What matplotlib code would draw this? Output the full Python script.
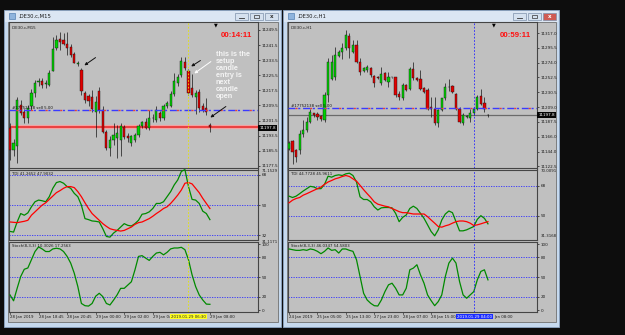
import numpy as np
import matplotlib
matplotlib.use('Agg')
import matplotlib.pyplot as plt
from matplotlib.patches import Rectangle

# ---- M15 chart (left window) ----
m15_open = [11197.5, 11186.0, 11188.0, 11210.0, 11206.0, 11203.0, 11209.0, 11216.0, 11222.0, 11222.5,
            11221.0, 11220.4, 11228.0, 11239.8, 11244.6, 11244.2, 11242.1, 11240.7, 11236.8, 11231.3,
            11228.3, 11216.0, 11214.6, 11213.9, 11206.3, 11217.2, 11207.2, 11195.4, 11186.9, 11191.3,
            11192.5, 11191.3, 11198.0, 11193.5, 11189.5, 11191.3, 11194.0, 11198.4, 11200.5, 11197.5,
            11202.7, 11201.9, 11205.4, 11202.8, 11209.3, 11209.3, 11215.5, 11221.3, 11225.7, 11232.7,
            11227.8, 11218.6, 11214.2, 11216.5, 11209.0, 11208.0, 11199.2]
m15_high = [11200.0, 11192.0, 11214.0, 11212.5, 11207.5, 11210.0, 11218.0, 11223.0, 11224.0, 11224.0,
            11223.0, 11228.3, 11245.9, 11246.8, 11248.6, 11247.7, 11248.6, 11242.0, 11238.0, 11233.0,
            11229.2, 11217.0, 11215.5, 11217.5, 11214.6, 11219.4, 11209.0, 11196.6, 11193.2, 11200.1,
            11199.0, 11200.1, 11199.3, 11195.0, 11194.0, 11195.0, 11199.5, 11201.5, 11203.0, 11207.2,
            11205.0, 11209.0, 11206.5, 11210.5, 11212.0, 11217.0, 11226.6, 11226.0, 11235.4, 11235.4,
            11229.0, 11226.0, 11217.5, 11218.0, 11211.0, 11213.4, 11200.1]
m15_low = [11180.7, 11183.0, 11179.0, 11204.5, 11200.0, 11200.0, 11207.0, 11214.0, 11220.0, 11218.5,
           11219.0, 11219.6, 11227.5, 11239.0, 11239.0, 11241.4, 11236.2, 11235.0, 11231.9, 11230.5,
           11215.1, 11210.7, 11209.0, 11206.3, 11192.6, 11205.7, 11194.8, 11186.0, 11182.6, 11188.6,
           11181.6, 11182.5, 11192.0, 11190.0, 11187.8, 11190.0, 11193.0, 11197.5, 11197.0, 11196.5,
           11201.0, 11201.0, 11201.5, 11202.0, 11208.0, 11208.5, 11214.5, 11220.0, 11224.8, 11228.3,
           11215.0, 11214.0, 11205.0, 11206.0, 11206.0, 11204.5, 11195.7]
m15_close = [11186.0, 11189.5, 11212.5, 11205.5, 11203.0, 11208.0, 11216.0, 11221.3, 11222.5, 11220.4,
             11221.5, 11226.9, 11239.3, 11244.2, 11243.3, 11242.1, 11239.8, 11236.3, 11232.2, 11232.2,
             11217.4, 11212.5, 11212.0, 11207.5, 11211.6, 11207.2, 11195.7, 11186.9, 11191.3, 11193.9,
             11195.0, 11198.4, 11193.0, 11192.2, 11193.1, 11194.0, 11198.4, 11200.5, 11197.5, 11202.8,
             11203.0, 11207.2, 11202.8, 11209.3, 11210.7, 11215.5, 11222.2, 11224.8, 11233.1, 11229.2,
             11216.3, 11215.1, 11216.0, 11208.0, 11207.2, 11205.8, 11198.0]
m15_tdi_green = [34.4, 34.0, 40.0, 45.0, 44.0, 45.4, 49.0, 52.0, 53.0, 52.6,
                 52.0, 55.0, 60.0, 63.4, 64.0, 63.0, 61.0, 60.0, 57.0, 55.0,
                 50.0, 42.0, 41.4, 40.6, 40.4, 40.0, 36.0, 31.4, 31.0, 33.4,
                 35.0, 37.0, 39.0, 38.0, 37.6, 39.0, 41.0, 44.6, 45.0, 46.0,
                 48.0, 51.0, 51.0, 52.0, 55.0, 58.0, 62.0, 65.0, 70.0, 71.1,
                 61.0, 53.4, 53.0, 51.0, 46.4, 45.0, 41.4]
m15_tdi_red = [40.0, 39.8, 39.6, 40.0, 40.4, 41.0, 44.0, 46.0, 48.0, 50.0,
               51.4, 53.4, 55.4, 57.4, 58.6, 60.0, 61.0, 61.0, 60.4, 58.0,
               55.0, 51.4, 48.0, 45.0, 43.0, 41.0, 39.0, 37.4, 36.0, 35.4,
               35.0, 34.6, 35.0, 36.0, 37.0, 38.6, 39.6, 40.0, 41.0, 42.0,
               43.4, 45.0, 46.4, 48.0, 49.0, 51.0, 53.4, 56.0, 59.0, 63.0,
               63.4, 62.6, 60.0, 57.4, 54.0, 51.0, 48.0]
m15_stoch = [23, 14, 33, 51, 62, 64, 76.5, 89, 96, 93,
             89, 89, 93, 94, 93, 89, 81.6, 71.4, 56, 35.7,
             10, 6.6, 6, 10, 21, 25.5, 20.4, 10, 7.7, 15,
             23, 33, 33, 38, 43, 61, 81.6, 82.7, 79, 75.5,
             81.6, 86.7, 87.8, 84, 87.8, 93, 94.4, 94.4, 95.4, 91.8,
             76.5, 53.6, 35.7, 23, 15.3, 9, 8.7]
m15_price_ticks = [11249.5, 11241.5, 11233.5, 11225.5, 11217.5, 11209.5, 11201.5, 11193.5, 11185.5, 11177.5]
m15_time_pos = [0, 8, 16, 24, 32, 40, 56]
m15_time_labels = ['28 Jan 2019', '28 Jan 18:45', '28 Jan 20:45', '29 Jan 00:00',
                   '29 Jan 02:00', '29 Jan 04', '29 Jan 08:00']

# ---- H1 chart (right window) ----
h1_open = [11148.4, 11159.2, 11146.0, 11146.0, 11170.4, 11175.3, 11187.5, 11199.7, 11198.3, 11195.9,
           11190.0, 11226.6, 11249.6, 11253.5, 11283.8, 11290.1, 11295.0, 11313.0, 11290.1, 11300.0,
           11275.5, 11262.3, 11263.2, 11265.7, 11254.5, 11252.5, 11244.7, 11258.4, 11246.2, 11252.5,
           11252.5, 11227.6, 11221.7, 11241.3, 11234.9, 11264.7, 11251.0, 11250.0, 11236.4, 11233.9,
           11208.5, 11207.0, 11185.1, 11204.6, 11221.7, 11238.8, 11239.8, 11228.0, 11207.0, 11185.1,
           11194.9, 11192.4, 11199.8, 11207.0, 11225.1, 11214.4, 11197.3]
h1_high = [11159.7, 11161.6, 11148.4, 11175.3, 11190.0, 11194.9, 11207.0, 11200.5, 11202.2, 11197.0,
           11231.5, 11280.4, 11285.3, 11297.5, 11292.0, 11302.3, 11321.9, 11317.0, 11307.2, 11307.2,
           11280.4, 11267.0, 11270.0, 11268.1, 11256.0, 11255.0, 11268.1, 11260.0, 11260.8, 11253.5,
           11253.5, 11232.9, 11243.7, 11243.0, 11268.1, 11275.5, 11253.0, 11263.2, 11238.0, 11236.4,
           11224.2, 11224.2, 11207.0, 11223.0, 11244.7, 11249.6, 11241.0, 11230.0, 11209.5, 11199.8,
           11197.0, 11207.0, 11209.5, 11226.6, 11234.9, 11224.2, 11199.0]
h1_low = [11146.0, 11126.5, 11129.0, 11141.1, 11165.6, 11172.8, 11185.1, 11195.0, 11190.0, 11189.0,
          11187.5, 11216.8, 11248.6, 11248.6, 11282.0, 11278.9, 11292.6, 11280.4, 11287.7, 11273.0,
          11256.0, 11260.0, 11261.0, 11253.5, 11238.8, 11250.0, 11241.2, 11247.0, 11239.0, 11251.5,
          11224.2, 11219.3, 11219.3, 11232.0, 11234.0, 11248.6, 11247.0, 11234.0, 11230.0, 11204.6,
          11194.9, 11182.7, 11180.2, 11203.0, 11219.3, 11233.0, 11230.0, 11205.0, 11185.1, 11182.7,
          11193.0, 11187.5, 11197.3, 11204.6, 11212.0, 11202.2, 11195.0]
h1_close = [11156.7, 11143.6, 11136.2, 11170.4, 11175.3, 11187.5, 11202.2, 11197.3, 11194.9, 11192.0,
            11226.6, 11275.5, 11275.5, 11285.3, 11290.1, 11296.0, 11314.6, 11295.0, 11300.0, 11275.5,
            11260.8, 11265.7, 11268.1, 11256.0, 11243.7, 11252.0, 11257.4, 11248.6, 11253.5, 11252.6,
            11226.6, 11224.2, 11241.3, 11233.9, 11264.7, 11251.0, 11248.6, 11234.9, 11231.5, 11207.0,
            11206.0, 11185.1, 11204.6, 11221.7, 11238.8, 11237.8, 11231.5, 11207.0, 11187.5, 11197.3,
            11195.5, 11199.8, 11207.0, 11224.2, 11213.4, 11205.6, 11197.8]
h1_tdi_green = [61.9, 61.1, 61.9, 63.4, 65.0, 66.4, 67.8, 67.4, 66.4, 66.4,
                69.0, 73.9, 73.3, 74.3, 74.7, 74.3, 75.3, 75.7, 74.3, 70.4,
                61.5, 59.9, 59.9, 58.5, 55.5, 53.6, 54.9, 55.1, 55.1, 54.9,
                51.6, 46.6, 49.2, 50.6, 54.5, 55.9, 54.5, 51.6, 48.6, 44.7,
                40.7, 38.1, 41.7, 47.6, 51.2, 53.0, 52.0, 46.6, 41.1, 41.1,
                41.7, 42.7, 43.7, 48.0, 50.2, 48.6, 45.3]
h1_tdi_red = [57.9, 59.5, 60.5, 61.1, 62.5, 63.4, 64.4, 65.4, 66.4, 67.4,
              69.0, 70.4, 71.3, 72.3, 72.9, 73.7, 74.3, 73.7, 72.3, 70.9,
              68.4, 65.8, 63.4, 61.1, 58.5, 57.1, 56.5, 55.9, 55.5, 54.5,
              53.6, 52.6, 52.0, 52.0, 51.6, 51.2, 51.2, 51.2, 51.2, 49.6,
              47.6, 45.7, 43.7, 43.3, 44.1, 44.7, 45.7, 46.6, 47.0, 47.0,
              46.6, 45.7, 44.3, 44.7, 45.3, 46.0, 46.6]
h1_stoch = [92.9, 91.8, 90.8, 90.8, 91.8, 90.8, 92.9, 91.8, 89.3, 85.7,
            89.3, 94.4, 90.8, 91.8, 86.7, 92.9, 92.9, 90.8, 89.3, 76.5,
            51, 25.5, 15.3, 10.2, 6.6, 6.1, 15.3, 28, 38.3, 40.8,
            33.2, 23, 23, 33.2, 61.2, 63.8, 68.9, 53.6, 40.8, 23,
            14.3, 6.6, 12.8, 23, 51, 71.4, 79, 71.4, 43.4, 23,
            17.9, 23, 28, 45.9, 58.7, 61.2, 45.9]
h1_price_ticks = [11317.0, 11295.5, 11274.0, 11252.5, 11230.5, 11209.0, 11187.5, 11166.0, 11144.0, 11122.5]
h1_time_pos = [0, 8, 16, 24, 32, 40]
h1_time_labels = ['24 Jan 2019', '25 Jan 05:00', '25 Jan 13:00', '27 Jan 23:00',
                  '28 Jan 07:00', '28 Jan 15:00']

order_price = 11207.2
bid_price = 11197.8
m15_line_price = 11198.2

GRAY = '#c0c0c0'
W, H = 625, 335
SMALL = 2.8

fig = plt.figure(figsize=(6.25, 3.35), dpi=100)
fig.patch.set_facecolor('#0d0d0d')


def box(x0, y0, x1, y1):
    return [x0 / W, 1 - y1 / H, (x1 - x0) / W, (y1 - y0) / H]


# window frames drawn in pixel space
bg = fig.add_axes([0, 0, 1, 1])
bg.set_xlim(0, W)
bg.set_ylim(H, 0)
bg.axis('off')


def draw_window(x0, x1, title, close_red):
    bg.add_patch(Rectangle((x0, 10), x1 - x0, 317, facecolor='#c6d9ee', edgecolor='#8da6c4', lw=0.6))
    bg.add_patch(Rectangle((x0 + 0.6, 10.6), x1 - x0 - 1.2, 11, facecolor='#dbe6f3', edgecolor='none'))
    bg.add_patch(Rectangle((x0 + 4, 22), x1 - x0 - 7, 300, facecolor=GRAY, edgecolor='#707070', lw=0.6))
    bg.add_patch(Rectangle((x0 + 5, 13), 6, 6, facecolor='#8fb4dd', edgecolor='#3f70a8', lw=0.4))
    bg.text(x0 + 14, 16.3, title, fontsize=3.8, color='#1a1a1a', va='center')
    for k, xb in enumerate([x1 - 46, x1 - 31, x1 - 16]):
        fc = '#cf5a52' if (close_red and k == 2) else '#d5e1ef'
        bg.add_patch(Rectangle((xb, 12.5), 13, 7, facecolor=fc, edgecolor='#7d91ab', lw=0.5))
    bg.plot([x1 - 42, x1 - 37], [17.5, 17.5], color='#333333', lw=0.6)
    bg.add_patch(Rectangle((x1 - 27, 14.5), 5, 3.5, facecolor='none', edgecolor='#333333', lw=0.5))
    bg.text(x1 - 9.5, 16, 'x', fontsize=4, color='white' if close_red else '#333333',
            ha='center', va='center', fontweight='bold')


draw_window(4, 281, '.DE30.c,M15', False)
draw_window(283, 559, '.DE30.c,H1', True)


def make_panel(x0, x1, y0, y1):
    ax = fig.add_axes(box(x0, y0, x1, y1))
    ax.set_facecolor(GRAY)
    for s in ax.spines.values():
        s.set_color('#454545')
        s.set_linewidth(0.8)
    ax.yaxis.tick_right()
    ax.tick_params(axis='y', direction='out', length=1.5, width=0.5, colors='#1a1a1a',
                   labelsize=3.0, pad=1)
    ax.set_xticks([])
    return ax


def draw_candles(ax, o, h, l, c):
    o, h, l, c = map(np.array, (o, h, l, c))
    idx = np.arange(len(o))
    up = c >= o
    ax.vlines(idx, l, h, color='#151515', lw=0.5, zorder=2)
    ax.bar(idx[up], (c - o)[up], bottom=o[up], width=0.62, color='#00d200',
           edgecolor='#151515', lw=0.3, zorder=3)
    ax.bar(idx[~up], (o - c)[~up], bottom=c[~up], width=0.62, color='#e00000',
           edgecolor='#151515', lw=0.3, zorder=3)


def levels(ax, vals):
    for v in vals:
        ax.axhline(v, color='#2d2dff', lw=0.6, ls=(0, (1.5, 1.5)), zorder=1)


def order_line(ax, price, label):
    ax.axhline(price, color='#3a3aff', lw=1.0, ls=(0, (5, 2, 1.5, 2)), zorder=4)
    ax.axhline(price, color='#e04040', lw=1.0, ls=(5.5, (1.5, 9)), zorder=4)
    ax.text(0.012, price, label, transform=ax.get_yaxis_transform(), fontsize=SMALL,
            color='#101010', va='bottom', zorder=5)


def price_box(ax, price):
    ax.text(1.006, price, f'{price:.1f}', transform=ax.get_yaxis_transform(), fontsize=3.0,
            color='white', va='center', ha='left', zorder=6, clip_on=False,
            bbox=dict(boxstyle='square,pad=0.25', fc='#050505', ec='none'))


def time_axis(ax, pos, labels, cursor_x, cursor_label, cursor_fc, cursor_tc):
    tr = ax.get_xaxis_transform()
    for p, t in zip(pos, labels):
        ax.plot([p, p], [0, -0.03], transform=tr, color='#333333', lw=0.5, clip_on=False)
        ax.text(p, -0.04, t, transform=tr, fontsize=SMALL, color='#1a1a1a', ha='left', va='top')
    ax.text(cursor_x, -0.04, cursor_label, transform=tr, fontsize=SMALL, color=cursor_tc,
            ha='center', va='top', zorder=6,
            bbox=dict(boxstyle='square,pad=0.15', fc=cursor_fc, ec='none'))


# ================= left window (M15) =================
lm = make_panel(9, 258, 22, 168)
lt = make_panel(9, 258, 169.5, 240)
ls_ = make_panel(9, 258, 242, 312)
for ax in (lm, lt, ls_):
    ax.set_xlim(-0.28, 69.47)

draw_candles(lm, m15_open, m15_high, m15_low, m15_close)
lm.set_ylim(11176.4, 11253.7)
lm.set_yticks(m15_price_ticks)
lm.set_yticklabels([f'{v:.1f}' for v in m15_price_ticks])
order_line(lm, order_price, '#17752138 sell 5.00')
lm.axhline(m15_line_price, color='#f4a0a0', lw=3.0, zorder=1)
lm.axhline(m15_line_price, color='#e83030', lw=1.2, zorder=1)
price_box(lm, bid_price)
lm.text(0.012, 0.975, '.DE30.c,M15', transform=lm.transAxes, fontsize=SMALL, va='top', color='#1a1a1a')
lm.text(0.977, 0.905, '00:14:11', transform=lm.transAxes, fontsize=5.7, color='#ff1010',
        fontweight='bold', family='Liberation Sans', ha='right', va='center')
lm.text(0.829, 0.995, '\u25bc', transform=lm.transAxes, fontsize=3.5, color='black', ha='center', va='top')

cur = 50
for ax in (lm, lt, ls_):
    ax.axvline(cur, color='#e6e600', lw=0.6, ls=(0, (2, 2)), zorder=4)

lm.text(57.7, 11238.6, 'this is the\nsetup\ncandle\nentry is\nnext\ncandle\nopen',
        fontsize=5.2, color='#f4f4f4', fontweight='bold', family='Liberation Sans',
        ha='left', va='top', linespacing=1.02, zorder=6)
black_arrow = dict(arrowstyle='-|>', color='#101010', lw=0.7, mutation_scale=4)
lm.annotate('', xy=(20.2, 11229.9), xytext=(24.6, 11235.7), arrowprops=black_arrow, zorder=6)
lm.annotate('', xy=(50.1, 11229.4), xytext=(54.0, 11234.1), arrowprops=black_arrow, zorder=6)
lm.annotate('', xy=(55.5, 11202.3), xytext=(61.1, 11209.8), arrowprops=black_arrow, zorder=6)
lm.annotate('', xy=(51.0, 11225.6), xytext=(56.9, 11233.6),
            arrowprops=dict(arrowstyle='-|>', color='white', lw=0.7, mutation_scale=4), zorder=6)

x = np.arange(len(m15_tdi_green))
levels(lt, [68, 50, 32])
lt.plot(x, m15_tdi_green, color='#008a00', lw=0.9, zorder=3)
lt.plot(x, m15_tdi_red, color='#ff0000', lw=0.9, zorder=3)
lt.set_ylim(29.3, 71.15)
lt.set_yticks([68, 50, 32])
lt.set_yticklabels(['68', '50', '32'])
lt.text(1.015, 1.0, '71.1529', transform=lt.transAxes, fontsize=SMALL, va='top', color='#1a1a1a')
lt.text(1.015, 0.005, '31.1171', transform=lt.transAxes, fontsize=SMALL, va='top', color='#1a1a1a')
lt.text(0.012, 0.97, 'TDI 41.2652 47.9032', transform=lt.transAxes, fontsize=SMALL, va='top', color='#1a1a1a')

levels(ls_, [80, 50, 20])
ls_.plot(x, m15_stoch, color='#008a00', lw=0.9, zorder=3)
ls_.set_ylim(-3, 103.5)
ls_.set_yticks([100, 80, 50, 20, 0])
ls_.set_yticklabels(['100', '80', '50', '20', '0'])
ls_.text(0.012, 0.97, 'Stoch(8,3,3) 10.3026 17.2563', transform=ls_.transAxes, fontsize=SMALL,
         va='top', color='#1a1a1a')
time_axis(ls_, m15_time_pos, m15_time_labels, cur, '2019.01.29 06:30', '#ffff20', '#202020')

# ================= right window (H1) =================
rm = make_panel(288, 537, 22, 168)
rt = make_panel(288, 537, 169.5, 240)
rs = make_panel(288, 537, 242, 312)
for ax in (rm, rt, rs):
    ax.set_xlim(-0.28, 69.8)

draw_candles(rm, h1_open, h1_high, h1_low, h1_close)
rm.set_ylim(11120.0, 11333.5)
rm.set_yticks(h1_price_ticks)
rm.set_yticklabels([f'{v:.1f}' for v in h1_price_ticks])
order_line(rm, order_price, '#17752138 sell 5.00')
rm.axhline(bid_price, color='#6a6a6a', lw=0.9, zorder=1)
price_box(rm, bid_price)
rm.text(0.012, 0.975, '.DE30.c,H1', transform=rm.transAxes, fontsize=SMALL, va='top', color='#1a1a1a')
rm.text(0.975, 0.905, '00:59:11', transform=rm.transAxes, fontsize=5.7, color='#ff1010',
        fontweight='bold', family='Liberation Sans', ha='right', va='center')
rm.text(0.825, 0.995, '\u25bc', transform=rm.transAxes, fontsize=3.5, color='black', ha='center', va='top')

rcur = 52.2
for ax in (rm, rt, rs):
    ax.axvline(rcur, color='#2020ff', lw=0.6, ls=(0, (2, 2)), zorder=4)

x = np.arange(len(h1_tdi_green))
levels(rt, [68, 50])
rt.plot(x, h1_tdi_green, color='#008a00', lw=0.9, zorder=3)
rt.plot(x, h1_tdi_red, color='#ff0000', lw=0.9, zorder=3)
rt.set_ylim(35.6, 77.9)
rt.set_yticks([68, 50])
rt.set_yticklabels(['68', '50'])
rt.text(1.015, 1.0, '70.0091', transform=rt.transAxes, fontsize=SMALL, va='top', color='#1a1a1a')
rt.text(1.015, 0.05, '31.3168', transform=rt.transAxes, fontsize=SMALL, va='center', color='#1a1a1a')
rt.text(0.012, 0.97, 'TDI 44.7728 45.9611', transform=rt.transAxes, fontsize=SMALL, va='top', color='#1a1a1a')

levels(rs, [80, 50, 20])
rs.plot(x, h1_stoch, color='#008a00', lw=0.9, zorder=3)
rs.set_ylim(-3, 103.5)
rs.set_yticks([100, 80, 50, 20, 0])
rs.set_yticklabels(['100', '80', '50', '20', '0'])
rs.text(0.012, 0.97, 'Stoch(8,3,3) 46.0347 54.5803', transform=rs.transAxes, fontsize=SMALL,
        va='top', color='#1a1a1a')
time_axis(rs, h1_time_pos, h1_time_labels, rcur, '2019.01.29 04:00', '#1a2cff', 'white')
rs.text(57.8, -0.04, 'Jan 08:00', transform=rs.get_xaxis_transform(), fontsize=SMALL,
        color='#1a1a1a', ha='left', va='top')

fig.savefig('out.png', dpi=100, facecolor=fig.get_facecolor())
